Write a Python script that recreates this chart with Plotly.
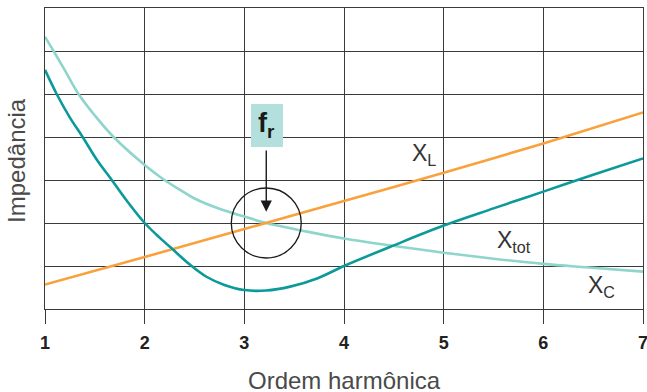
import plotly.graph_objects as go

# harmonic order positions
harmonic_xc = [1, 1.086, 1.2, 1.336, 1.5, 1.688, 2, 2.18, 2.355, 2.5, 2.75, 3, 3.22, 3.63, 4, 4.43, 5, 5.5, 6, 6.43, 7]
impedance_xc = [6.33, 6.0, 5.55, 5.0, 4.5, 4.0, 3.35, 3.03, 2.77, 2.57, 2.33, 2.15, 2.0, 1.8, 1.64, 1.49, 1.31, 1.17, 1.05, 0.97, 0.87]

harmonic_xl = [1, 2, 3, 4, 5, 6, 7]
impedance_xl = [0.57, 1.21, 1.86, 2.51, 3.17, 3.85, 4.57]

harmonic_xtot = [1, 1.117, 1.25, 1.378, 1.52, 1.67, 1.83, 2, 2.15, 2.29, 2.45, 2.62, 2.8, 3, 3.22, 3.46, 3.73, 4, 4.5, 5, 5.5, 6, 6.5, 7]
impedance_xtot = [5.56, 5.0, 4.45, 4.0, 3.47, 3.0, 2.49, 2.0, 1.66, 1.37, 1.04, 0.75, 0.56, 0.44, 0.43, 0.52, 0.71, 1.0, 1.48, 1.94, 2.34, 2.73, 3.12, 3.5]

x_ticks = [1, 2, 3, 4, 5, 6, 7]

# resonance point
fr_x = 3.22
fr_y = 2.0

GRID = "#3a3a3a"
TEXT = "#333333"
FONT = "Liberation Sans, Arial, sans-serif"


def build_figure():
    fig = go.Figure()

    fig.add_trace(go.Scatter(
        x=harmonic_xc, y=impedance_xc, mode="lines",
        line=dict(color="#8ed5cb", width=2.6, shape="spline", smoothing=1.0),
        showlegend=False, hoverinfo="skip"))
    fig.add_trace(go.Scatter(
        x=harmonic_xl, y=impedance_xl, mode="lines",
        line=dict(color="#f9a13c", width=2.6, shape="spline", smoothing=0.6),
        showlegend=False, hoverinfo="skip"))
    fig.add_trace(go.Scatter(
        x=harmonic_xtot, y=impedance_xtot, mode="lines",
        line=dict(color="#0b9a99", width=2.6, shape="spline", smoothing=1.0),
        showlegend=False, hoverinfo="skip"))

    # circle round the resonance point
    fig.add_shape(
        type="circle", xref="x", yref="y",
        x0=fr_x - 0.351, x1=fr_x + 0.351, y0=fr_y - 0.814, y1=fr_y + 0.814,
        line=dict(color="#1a1a1a", width=1.3))

    # f_r box
    fig.add_shape(
        type="rect", xref="x", yref="y",
        x0=3.067, x1=3.388, y0=3.77, y1=4.77,
        fillcolor="#b3e0dc", line=dict(width=0), layer="above")

    fig.add_annotation(
        x=fr_x + 0.005, y=4.27, xref="x", yref="y",
        text="<b>f<sub>r</sub></b>", showarrow=False,
        font=dict(family=FONT, size=27, color="#1a1a1a"))

    # arrow pointing down to the resonance
    fig.add_annotation(
        x=fr_x, y=2.26, ax=fr_x, ay=3.72, xref="x", yref="y",
        axref="x", ayref="y", text="", showarrow=True,
        arrowhead=2, arrowsize=1.6, arrowwidth=1.4, arrowcolor="#1a1a1a")

    labels = [
        (4.66, 3.6, "X<sub>L</sub>"),
        (5.51, 1.58, "X<sub>tot</sub>"),
        (6.43, 0.53, "X<sub>C</sub>"),
    ]
    for lx, ly, txt in labels:
        fig.add_annotation(
            x=lx, y=ly, xref="x", yref="y", text=txt, showarrow=False,
            xanchor="left", yanchor="middle",
            font=dict(family=FONT, size=23, color=TEXT))

    fig.add_annotation(
        x=0.5, y=-0.236, xref="paper", yref="paper",
        xanchor="center", yanchor="middle",
        text="Ordem harmônica", showarrow=False,
        font=dict(family=FONT, size=24, color="#4a4a4a"))
    fig.add_annotation(
        x=-0.048, y=0.493, xref="paper", yref="paper",
        xanchor="center", yanchor="middle",
        text="Impedância", showarrow=False, textangle=-90,
        font=dict(family=FONT, size=24, color="#4a4a4a"))

    fig.update_xaxes(
        range=[1, 7], tickvals=x_ticks, ticktext=[str(t) for t in x_ticks],
        showgrid=True, gridcolor=GRID, gridwidth=1.3,
        showline=True, linecolor=GRID, linewidth=1.3, mirror=True,
        ticks="outside", ticklen=14, tickwidth=1.3, tickcolor=GRID,
        ticklabelstandoff=3, zeroline=False, automargin=False,
        ticklabeloverflow="allow",
        tickfont=dict(family=FONT, size=18, color="#222222", weight="bold"))
    fig.update_yaxes(
        range=[0, 7], dtick=1, showticklabels=False,
        showgrid=True, gridcolor=GRID, gridwidth=1.3,
        showline=True, linecolor=GRID, linewidth=1.3, mirror=True,
        zeroline=False, ticks="", automargin=False)

    fig.update_layout(
        width=647, height=392,
        margin=dict(l=45, r=4, t=8, b=83),
        plot_bgcolor="white", paper_bgcolor="white")
    return fig


fig = build_figure()
# drop the default 8px page margin so the figure fills the window
fig.write_html(
    "out.html",
    config={"displayModeBar": False},
    post_script="document.body.style.margin='0';document.body.style.overflow='hidden';")
